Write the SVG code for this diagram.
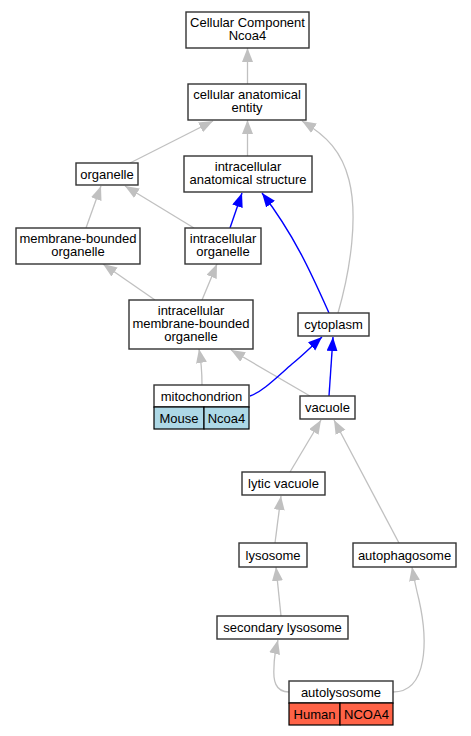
<svg xmlns="http://www.w3.org/2000/svg" width="471" height="736" viewBox="0 0 471 736">
<style>
text{font-family:"Liberation Sans",Arial,sans-serif;font-size:13px;fill:#000;text-anchor:middle}
.n{fill:#fff;stroke:#333;stroke-width:1.4}
.m{fill:#add8e6;stroke:#000;stroke-width:1.2}
.h{fill:#ff6347;stroke:#000;stroke-width:1.2}
.g{fill:none;stroke:#c0c0c0;stroke-width:1.3}
.b{fill:none;stroke:#0000ff;stroke-width:1.4}
.g{marker-end:url(#ag)}
.b{marker-end:url(#ab)}
</style>
<defs>
<marker id="ag" markerUnits="userSpaceOnUse" markerWidth="16" markerHeight="12" refX="14" refY="5.5" orient="auto" viewBox="0 0 16 12"><path d="M0,0 L14,5.5 L0,11 Z" fill="#c0c0c0"/></marker>
<marker id="ab" markerUnits="userSpaceOnUse" markerWidth="16" markerHeight="12" refX="14" refY="5.5" orient="auto" viewBox="0 0 16 12"><path d="M0,0 L14,5.5 L0,11 Z" fill="#0000ff"/></marker>
</defs>
<g id="edges">
<path class="g" d="M247.5,84 L247.5,48"/>
<path class="g" d="M130,163 L213,121"/>
<path class="g" d="M247.5,156 L247.5,120"/>
<path class="g" d="M338,313 C351,268 358,215 349,180 C342,152 327,136 302,121"/>
<path class="g" d="M86,228 L101,186"/>
<path class="g" d="M194,228 L125,186"/>
<path class="b" d="M230,228 L242,193"/>
<path class="b" d="M329,313 C312,275 295,236 262,193"/>
<path class="g" d="M155,300 L103,264"/>
<path class="g" d="M202,300 L217,264"/>
<path class="g" d="M202,385 C202,372 201,360 199,349"/>
<path class="g" d="M310,396 L231,350"/>
<path class="b" d="M250,396 C262,392 276,378 292,364 C302,356 312,346 322,337"/>
<path class="b" d="M329,396 L333,337"/>
<path class="g" d="M290,472 L321,420"/>
<path class="g" d="M399,543 L334,420"/>
<path class="g" d="M275,543 L281,496"/>
<path class="g" d="M281,616 L276,567"/>
<path class="g" d="M289,692 C275,692 273,680 274,667 C274,658 276,648 278,640"/>
<path class="g" d="M393,692 C428,692 428,640 419,600 C416,588 414,578 412,567"/>
</g>
<g id="cc_ncoa4"><rect class="n" x="186" y="12" width="123" height="36"/><text x="247.5" y="27">Cellular Component</text><text x="247.5" y="40">Ncoa4</text></g>
<g id="cellular_anatomical_entity"><rect class="n" x="188" y="84" width="118" height="36"/><text x="247" y="99">cellular anatomical</text><text x="247" y="112">entity</text></g>
<g id="organelle"><rect class="n" x="76" y="163" width="62" height="22"/><text x="107" y="178.5">organelle</text></g>
<g id="intracellular_anatomical_structure"><rect class="n" x="184" y="156" width="128" height="36"/><text x="248" y="171">intracellular</text><text x="248" y="184">anatomical structure</text></g>
<g id="membrane_bounded_organelle"><rect class="n" x="16" y="228" width="124" height="36"/><text x="78" y="243">membrane-bounded</text><text x="78" y="256">organelle</text></g>
<g id="intracellular_organelle"><rect class="n" x="185" y="228" width="76" height="36"/><text x="223" y="243">intracellular</text><text x="223" y="256">organelle</text></g>
<g id="intracellular_membrane_bounded_organelle"><rect class="n" x="129" y="300" width="124" height="49"/><text x="191" y="314.5">intracellular</text><text x="191" y="327.5">membrane-bounded</text><text x="191" y="340.5">organelle</text></g>
<g id="cytoplasm"><rect class="n" x="298" y="313" width="71" height="23"/><text x="333.5" y="329">cytoplasm</text></g>
<g id="mitochondrion"><rect class="n" x="154" y="385" width="95" height="22"/><text x="201.5" y="400.5">mitochondrion</text><rect class="m" x="154" y="407" width="50" height="22"/><text x="179" y="422.5">Mouse</text><rect class="m" x="204" y="407" width="45" height="22"/><text x="226.5" y="422.5">Ncoa4</text></g>
<g id="vacuole"><rect class="n" x="300" y="396" width="55" height="23"/><text x="327.5" y="412">vacuole</text></g>
<g id="lytic_vacuole"><rect class="n" x="242" y="472" width="83" height="23"/><text x="283.5" y="488">lytic vacuole</text></g>
<g id="lysosome"><rect class="n" x="239" y="543" width="68" height="24"/><text x="273" y="559.5">lysosome</text></g>
<g id="autophagosome"><rect class="n" x="353" y="543" width="103" height="24"/><text x="404.5" y="559.5">autophagosome</text></g>
<g id="secondary_lysosome"><rect class="n" x="217" y="616" width="131" height="23"/><text x="282.5" y="632">secondary lysosome</text></g>
<g id="autolysosome"><rect class="n" x="289" y="681" width="104" height="22"/><text x="341" y="696.5">autolysosome</text><rect class="h" x="289" y="703" width="51" height="22"/><text x="314.5" y="718.5">Human</text><rect class="h" x="340" y="703" width="53" height="22"/><text x="366.5" y="718.5">NCOA4</text></g>
</svg>
